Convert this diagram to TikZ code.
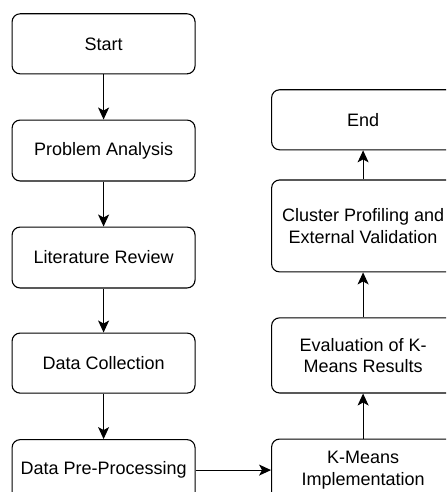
\documentclass[tikz,border=0pt]{standalone}
\usepackage{fontspec}
\setmainfont{Liberation Sans}
\usepackage{tikz}
\usetikzlibrary{arrows.meta}

\begin{document}
\begin{tikzpicture}[
    stepbox/.style={draw, line width=1.1pt, rounded corners=8pt, fill=white,
        minimum width=6.43cm, align=center, inner sep=2pt,
        font=\fontsize{18}{21.5}\selectfont},
    flow/.style={line width=1.1pt, -{Stealth[length=12pt, width=11pt, inset=3pt]}}
    ]
        \useasboundingbox (0,0) rectangle (15.68,17.29);
        \clip (0,0) rectangle (15.68,17.29);

        \node[stepbox, minimum height=2.11cm] (start) at (3.64,15.75) {Start};
        \node[stepbox, minimum height=2.14cm] (problem) at (3.64,12.00) {Problem Analysis};
        \node[stepbox, minimum height=2.14cm] (review) at (3.64,8.24) {Literature Review};
        \node[stepbox, minimum height=2.11cm] (collect) at (3.64,4.53) {Data Collection};
        \node[stepbox, minimum height=2.14cm] (preproc) at (3.64,0.77) {Data Pre-Processing};

        \node[stepbox, minimum height=2.18cm] (kmeans) at (12.76,0.77) {K-Means\\Implementation};
        \node[stepbox, minimum height=2.64cm] (eval) at (12.76,4.80) {Evaluation of K-\\Means Results};
        \node[stepbox, minimum height=3.23cm] (profile) at (12.76,9.35) {Cluster Profiling and\\External Validation};
        \node[stepbox, minimum height=2.11cm] (end) at (12.76,13.08) {End};

        \draw[flow] (start) -- (problem);
        \draw[flow] (problem) -- (review);
        \draw[flow] (review) -- (collect);
        \draw[flow] (collect) -- (preproc);
        \draw[flow] (preproc) -- (kmeans);
        \draw[flow] (kmeans) -- (eval);
        \draw[flow] (eval) -- (profile);
        \draw[flow] (profile) -- (end);
    \end{tikzpicture}
\end{document}
